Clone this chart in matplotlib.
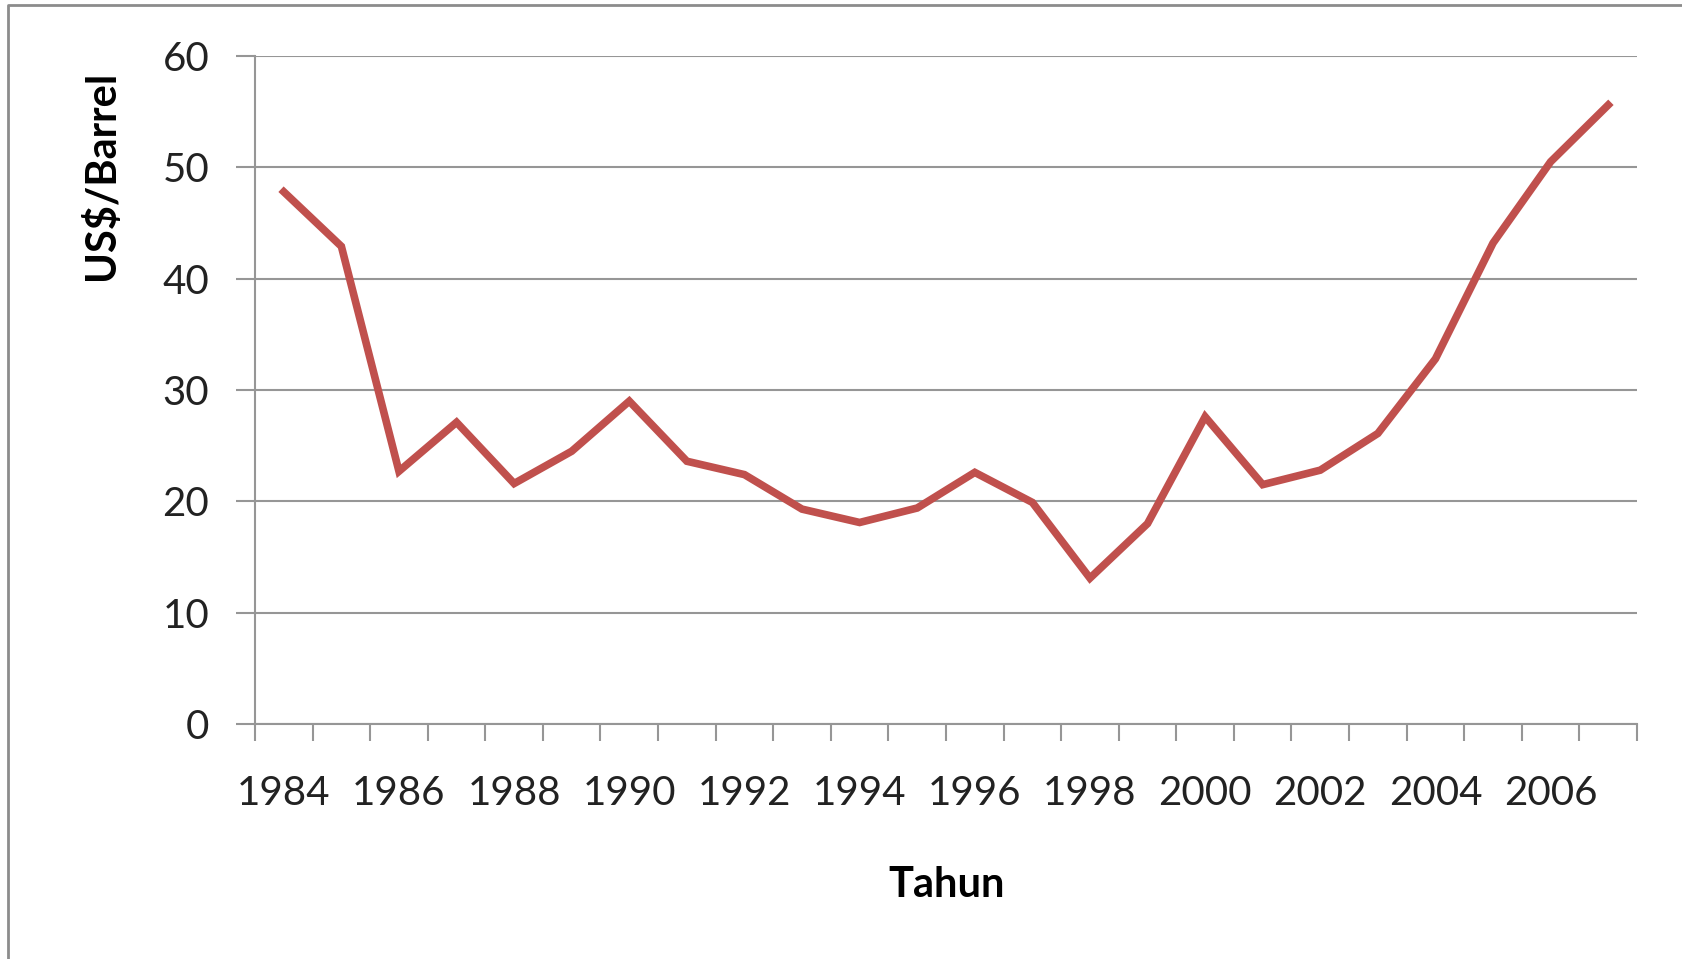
import matplotlib
matplotlib.use('Agg')
import matplotlib.pyplot as plt
from matplotlib.lines import Line2D
import numpy as np

plt.rcParams['font.family'] = ['Lato', 'DejaVu Sans']

# harga minyak per tahun
years = list(range(1984, 2008))
prices = [47.8, 42.9, 22.7, 27.1, 21.6, 24.5, 29.0, 23.6, 22.4, 19.3, 18.1, 19.4,
          22.6, 19.9, 13.1, 18.0, 27.6, 21.5, 22.8, 26.1, 32.8, 43.2, 50.5, 55.6]
year_labels = [str(y) for y in years[::2]]

W, H = 1683, 959
fig = plt.figure(figsize=(W / 100, H / 100), dpi=100)
ax = fig.add_axes([255 / W, 1 - 724 / H, (1637 - 255) / W, (724 - 56) / H])

grid_c = '#969696'
text_c = '#222222'

x = np.arange(len(years))
ax.plot(x, prices, color='#C0504D', linewidth=5.5, solid_joinstyle='miter', zorder=3)

ax.set_xlim(-0.5, len(years) - 0.5)
ax.set_ylim(0, 60)
ax.set_yticks(np.arange(0, 61, 10))
ax.yaxis.grid(True, color=grid_c, linewidth=1.5)
ax.tick_params(axis='y', length=14, width=1.5, color=grid_c, pad=19,
               labelsize=29, labelcolor=text_c)

# tick di batas kategori, label di tengah
ax.set_xticks(np.arange(-0.5, len(years), 1))
ax.set_xticklabels([])
ax.set_xticks(x[::2], minor=True)
ax.set_xticklabels(year_labels, minor=True)
ax.tick_params(axis='x', which='major', length=12, width=1.5, color=grid_c)
ax.tick_params(axis='x', which='minor', length=0, pad=37, labelsize=29, labelcolor=text_c)

for s in ['top', 'right']:
    ax.spines[s].set_visible(False)
for s in ['left', 'bottom']:
    ax.spines[s].set_color(grid_c)
    ax.spines[s].set_linewidth(1.5)

fig.text(102 / W, 1 - 175 / H, 'US$/Barrel', rotation=90, ha='center', va='center',
         fontsize=30, fontweight='bold', color='black')
fig.text(947 / W, 1 - 885 / H, 'Tahun', ha='center', va='center',
         fontsize=30, fontweight='bold', color='black')

# bingkai luar
fig.add_artist(Line2D([8 / W, 8 / W, 1.0], [0, 1 - 5 / H, 1 - 5 / H],
                      transform=fig.transFigure, color='#8c8c8c', linewidth=2))

plt.savefig('out.png', dpi=100)
